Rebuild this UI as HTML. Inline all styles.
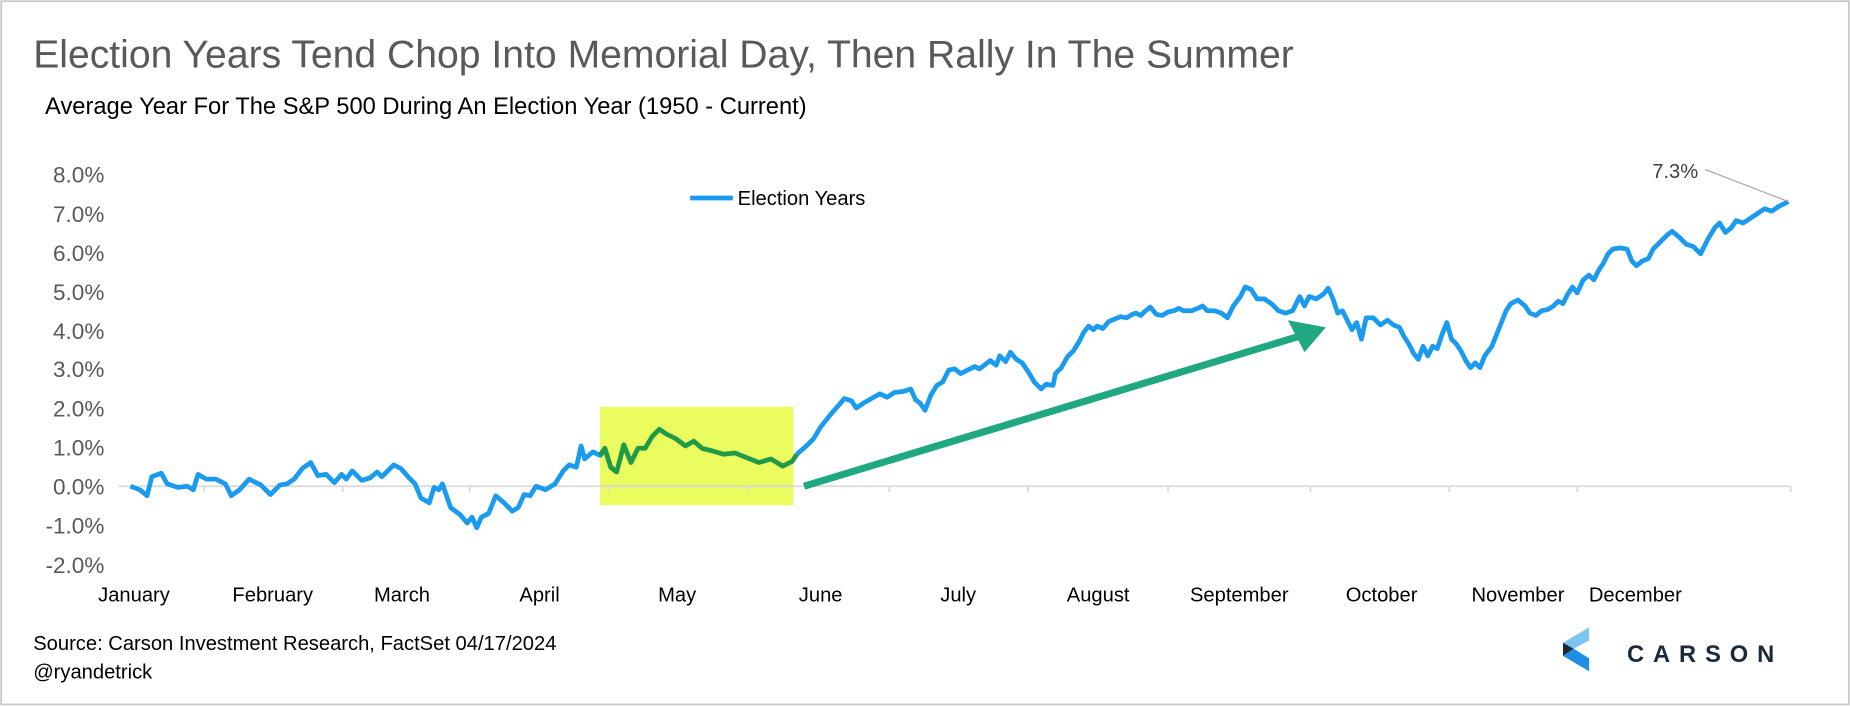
<!DOCTYPE html>
<html><head><meta charset="utf-8"><style>
html,body{margin:0;padding:0;background:#fff;}
svg{display:block;}
text{font-family:"Liberation Sans",Arial,sans-serif;}
</style></head><body>
<svg width="1850" height="706" viewBox="0 0 1560 595.3" preserveAspectRatio="none" xmlns="http://www.w3.org/2000/svg">
<rect x="1" y="1" width="1558" height="593" fill="#fff" stroke="#c8c8c8" stroke-width="1.5"/>
<text x="28" y="57" font-size="33" fill="#595959">Election Years Tend Chop Into Memorial Day, Then Rally In The Summer</text>
<text x="38" y="96" font-size="20" fill="#000">Average Year For The S&amp;P 500 During An Election Year (1950 - Current)</text>
<g font-size="19" fill="#595959" text-anchor="end">
<text x="88" y="154">8.0%</text><text x="88" y="187">7.0%</text><text x="88" y="220">6.0%</text><text x="88" y="253">5.0%</text><text x="88" y="286">4.0%</text><text x="88" y="318">3.0%</text><text x="88" y="351">2.0%</text><text x="88" y="384">1.0%</text><text x="88" y="417">0.0%</text><text x="88" y="450">-1.0%</text><text x="88" y="483">-2.0%</text>
</g>
<rect x="506" y="343" width="163" height="83" fill="#eafc5e"/>
<line x1="100" y1="410" x2="1510" y2="410" stroke="#d9d9d9" stroke-width="1.5"/>
<g stroke="#d9d9d9" stroke-width="1.5">
<line x1="172" y1="410" x2="172" y2="415"/><line x1="289" y1="410" x2="289" y2="415"/><line x1="396" y1="410" x2="396" y2="415"/><line x1="513" y1="410" x2="513" y2="415"/><line x1="630" y1="410" x2="630" y2="415"/><line x1="750" y1="410" x2="750" y2="415"/><line x1="867" y1="410" x2="867" y2="415"/><line x1="985" y1="410" x2="985" y2="415"/><line x1="1105" y1="410" x2="1105" y2="415"/><line x1="1222" y1="410" x2="1222" y2="415"/><line x1="1330" y1="410" x2="1330" y2="415"/><line x1="1510" y1="410" x2="1510" y2="415"/>
</g>
<g font-size="17" fill="#000" text-anchor="middle">
<text x="113" y="507">January</text><text x="230" y="507">February</text><text x="339" y="507">March</text><text x="455" y="507">April</text><text x="571" y="507">May</text><text x="692" y="507">June</text><text x="808" y="507">July</text><text x="926" y="507">August</text><text x="1045" y="507">September</text><text x="1165" y="507">October</text><text x="1280" y="507">November</text><text x="1379" y="507">December</text>
</g>
<line x1="582" y1="167" x2="618" y2="167" stroke="#1a9bef" stroke-width="4"/>
<text x="622" y="173" font-size="17" fill="#000">Election Years</text>
<polyline fill="none" stroke="#1a9bef" stroke-width="4" stroke-linejoin="round" points="110,410 118,413 124,418 128,402 136,399 141,408 150,411 158,410 163,413 167,400 174,404 182,404 190,408 195,418 202,413 210,404 220,409 228,417 236,409 242,408 248,404 255,395 262,390 268,401 275,400 282,407 288,400 292,404 297,397 305,405 312,403 318,398 322,402 327,397 332,392 338,395 345,403 350,408 355,420 362,424 366,411 370,413 373,408 380,428 388,434 394,441 398,436 402,445 406,436 412,433 418,418 425,424 432,431 437,428 442,417 447,418 452,410 460,413 468,408 475,397 480,392 486,394 490,376 493,387 500,381 506,384 510,378 515,394 520,398"/>
<polyline fill="none" stroke="#1f9a48" stroke-width="4" stroke-linejoin="round" points="506,384 510,378 515,394 520,398 526,375 532,390 538,378 544,378 550,368 556,362 562,366 570,370 578,376 585,372 592,378 600,380 610,383 620,382 630,386 640,390 650,387 660,393 668,389 672,383"/>
<polyline fill="none" stroke="#1a9bef" stroke-width="4" stroke-linejoin="round" points="672,383 680,376 686,370 692,360 700,350 707,342 712,336 718,338 722,344 728,340 735,336 742,332 748,335 754,331 762,330 768,328 772,337 776,340 780,346 785,333 790,325 795,322 800,312 805,311 810,315 816,312 822,309 826,311 830,308 835,304 840,308 843,300 848,305 852,297 857,303 862,306 868,315 872,322 878,328 882,324 888,325 890,315 895,310 900,301 905,296 910,288 914,280 918,275 922,278 925,275 930,277 935,271 940,269 945,267 950,268 955,265 958,264 962,266 966,262 970,259 975,265 980,266 985,263 990,262 994,260 998,262 1005,262 1010,260 1014,258 1018,262 1024,262 1030,264 1035,268 1040,258 1046,250 1050,242 1055,244 1060,252 1066,252 1072,256 1078,262 1084,264 1090,262 1096,250 1100,258 1104,250 1110,252 1116,248 1120,243 1124,252 1128,264 1132,262 1136,270 1140,278 1144,272 1148,286 1152,268 1158,268 1164,274 1170,270 1175,274 1180,276 1184,284 1188,290 1192,298 1196,303 1200,292 1204,300 1208,292 1212,294 1216,282 1220,272 1224,286 1228,290 1232,296 1236,304 1240,310 1244,306 1248,310 1252,300 1258,292 1262,282 1266,272 1270,262 1274,256 1280,253 1286,258 1290,264 1295,266 1300,262 1305,261 1310,258 1314,254 1318,256 1322,248 1326,242 1330,247 1335,236 1340,232 1344,236 1348,228 1352,222 1356,214 1360,210 1366,209 1372,210 1376,220 1380,224 1385,220 1390,218 1394,210 1400,204 1406,198 1410,195 1416,200 1422,206 1428,208 1434,214 1440,202 1446,192 1450,188 1455,196 1460,192 1464,186 1470,188 1476,184 1482,180 1488,176 1494,178 1500,174 1508,170"/>
<line x1="1438" y1="143" x2="1508" y2="170" stroke="#a6a6a6" stroke-width="1"/>
<text x="1432" y="150" font-size="17" fill="#404040" text-anchor="end">7.3%</text>
<line x1="678" y1="410" x2="1094" y2="284" stroke="#1fa882" stroke-width="6"/>
<polygon points="1118,276 1086,270 1100,297" fill="#1fa882"/>
<text x="28" y="548" font-size="17" fill="#000">Source: Carson Investment Research, FactSet 04/17/2024</text>
<text x="28" y="572" font-size="17" fill="#000">@ryandetrick</text>
<g transform="translate(1318,529)">
<polygon points="0,13 22,0 22,11 9,18" fill="#7cc4f2"/>
<polygon points="0,13 9,18 0,24" fill="#1b2a3a"/>
<polygon points="0,24 9,18 22,26 22,37" fill="#1f8ee6"/>
</g>
<text x="1372" y="558" font-size="20" fill="#1b2a3a" letter-spacing="7.5" font-weight="bold">CARSON</text>
</svg>
</body></html>
